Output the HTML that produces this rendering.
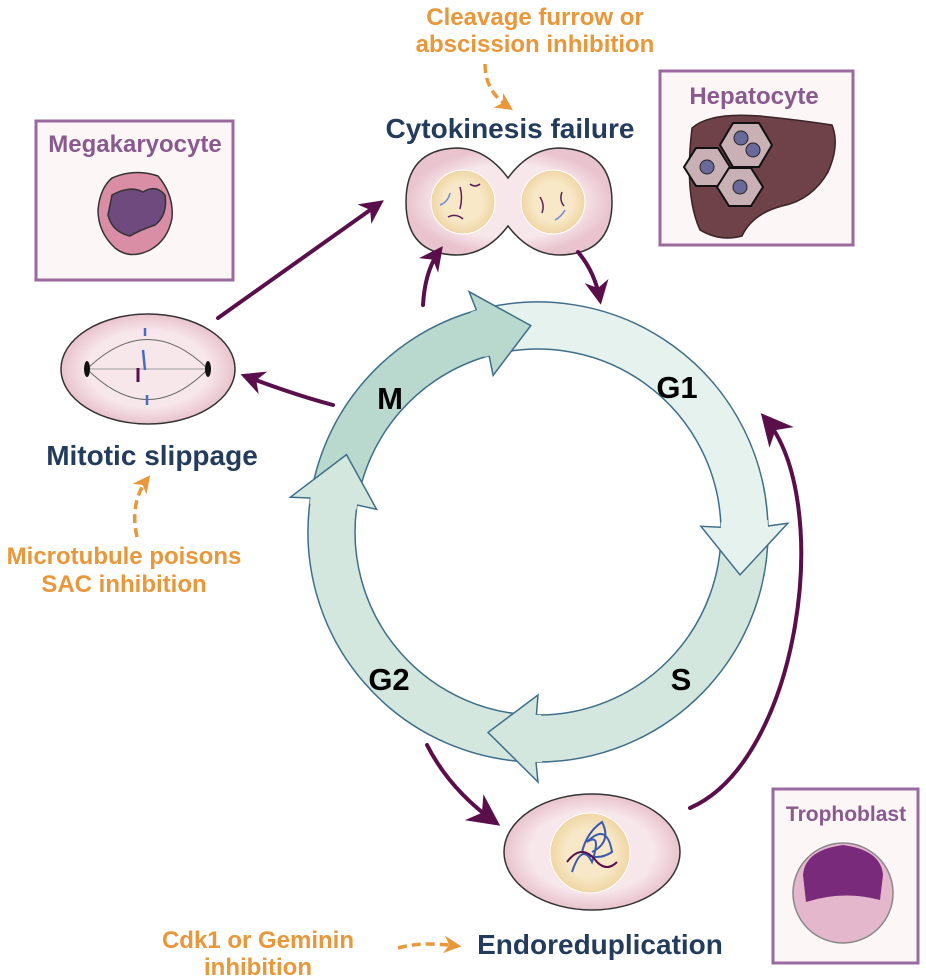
<!DOCTYPE html>
<html><head><meta charset="utf-8"><style>
html,body{margin:0;padding:0;background:#fff;width:926px;height:978px;overflow:hidden}
svg{display:block}
text{font-family:"Liberation Sans",Arial,sans-serif;font-weight:bold}
</style></head><body>
<svg id="s" width="926" height="978" viewBox="0 0 926 978" xmlns="http://www.w3.org/2000/svg">
<defs>
<marker id="ah" viewBox="0 0 10 10" refX="8" refY="5" markerWidth="6" markerHeight="6" orient="auto"><path d="M0,0 L10,5 L0,10 L3,5 z" fill="#5a0f4a"/></marker>
<marker id="ahb" viewBox="0 0 10 10" refX="8" refY="5" markerWidth="8" markerHeight="8" orient="auto"><path d="M0,0 L10,5 L0,10 L3,5 z" fill="#5a0f4a"/></marker>
<marker id="oh" viewBox="0 0 10 10" refX="8" refY="5" markerWidth="5" markerHeight="5" orient="auto"><path d="M0,0 L10,5 L0,10 L3,5 z" fill="#e8973a"/></marker>
<radialGradient id="pink" cx="0.5" cy="0.5" r="0.5"><stop offset="0.7" stop-color="#f7e6ea"/><stop offset="1" stop-color="#e9c3cd"/></radialGradient>
<radialGradient id="nuc" cx="0.5" cy="0.5" r="0.5"><stop offset="0.6" stop-color="#f8e8c8"/><stop offset="1" stop-color="#efd6a4"/></radialGradient>
</defs>
<g id="ring"></g>
<text x="390" y="409" font-size="31" text-anchor="middle">M</text>
<text x="677" y="398" font-size="31" text-anchor="middle">G1</text>
<text x="681" y="690" font-size="31" text-anchor="middle">S</text>
<text x="389" y="690" font-size="31" text-anchor="middle">G2</text>

<!-- texts -->
<text x="535" y="25" font-size="24" fill="#e8973a" text-anchor="middle">Cleavage furrow or</text>
<text x="535" y="52" font-size="24" fill="#e8973a" text-anchor="middle">abscission inhibition</text>
<path d="M485,64 C485,85 495,98 510,108" stroke="#e8973a" stroke-width="3.5" fill="none" stroke-dasharray="9,5" marker-end="url(#oh)"/>
<text x="510" y="138" font-size="28" fill="#243c5c" text-anchor="middle">Cytokinesis failure</text>
<text x="152" y="465" font-size="28" fill="#243c5c" text-anchor="middle">Mitotic slippage</text>
<text x="600" y="954" font-size="28" fill="#243c5c" text-anchor="middle">Endoreduplication</text>
<text x="124" y="564" font-size="24" fill="#e8973a" text-anchor="middle">Microtubule poisons</text>
<text x="124" y="592" font-size="24" fill="#e8973a" text-anchor="middle">SAC inhibition</text>
<path d="M137,537 C132,515 135,495 148,478" stroke="#e8973a" stroke-width="3.5" fill="none" stroke-dasharray="9,5" marker-end="url(#oh)"/>
<text x="258" y="948" font-size="24" fill="#e8973a" text-anchor="middle">Cdk1 or Geminin</text>
<text x="258" y="975" font-size="24" fill="#e8973a" text-anchor="middle">inhibition</text>
<path d="M398,948 C420,942 440,944 458,946" stroke="#e8973a" stroke-width="3.5" fill="none" stroke-dasharray="9,5" marker-end="url(#oh)"/>

<!-- boxes -->
<rect x="36" y="121" width="197" height="159" fill="#fcf6f7" stroke="#9a6a9e" stroke-width="3"/>
<text x="135" y="152" font-size="24" fill="#8a5a8e" text-anchor="middle">Megakaryocyte</text>
<rect x="660" y="71" width="193" height="174" fill="#fcf6f7" stroke="#9a6a9e" stroke-width="3"/>
<text x="754" y="104" font-size="24" fill="#8a5a8e" text-anchor="middle">Hepatocyte</text>
<rect x="773" y="789" width="145" height="174" fill="#fcf6f7" stroke="#9a6a9e" stroke-width="3"/>
<text x="846" y="821" font-size="21" fill="#8a5a8e" text-anchor="middle">Trophoblast</text>

<!-- megakaryocyte -->
<path d="M112,178 Q135,168 158,176 Q174,195 172,218 Q168,240 150,250 Q130,260 115,248 Q98,232 98,210 Q100,188 112,178 z" fill="#d98ea6" stroke="#333" stroke-width="1.5"/>
<path d="M112,195 Q130,185 143,192 Q156,184 165,195 Q168,215 155,225 Q140,230 130,236 Q112,232 108,215 z" fill="#6e4a7e" stroke="#333" stroke-width="1.5"/>
<!-- hepatocyte liver -->
<path d="M692,128 Q710,112 760,116 Q800,120 832,125 Q840,145 828,172 Q812,200 782,206 Q752,214 742,236 Q720,242 700,230 Q684,195 692,128 z" fill="#6e4248" stroke="#3a2226" stroke-width="1.5"/>
<g fill="#c8b0b4" stroke="#111" stroke-width="2">
<polygon points="733,123 759,123 772,145 759,167 733,167 720,145"/>
<polygon points="696,148 718,148 730,167 718,186 696,186 684,167"/>
<polygon points="729,168 751,168 763,187 751,206 729,206 717,187"/>
</g>
<g fill="#6a6a9a" stroke="#222"><circle cx="741" cy="138" r="7"/><circle cx="753" cy="150" r="7"/>
<circle cx="707" cy="167" r="7"/><circle cx="740" cy="187" r="7"/></g>
<!-- trophoblast -->
<circle cx="843" cy="893" r="50" fill="#e4b7cc" stroke="#888" stroke-width="1.5"/>
<path d="M803,875 Q805,850 843,845 Q881,850 883,875 L880,900 Q843,890 806,902 z" fill="#7a2a7a"/>
<!-- cytokinesis cell -->
<path d="M508,178 Q530,148 560,148 Q612,150 612,202 Q612,254 560,255 Q530,255 508,226 Q486,255 456,255 Q406,254 406,202 Q406,150 456,148 Q486,148 508,178 z" fill="url(#pink)" stroke="#333" stroke-width="1.5"/>
<circle cx="463" cy="202" r="32" fill="url(#nuc)" stroke="#fff"/>
<circle cx="553" cy="202" r="32" fill="url(#nuc)" stroke="#fff"/>
<path d="M460,187 q3,10 0,22 M470,184 q5,4 10,0 M448,217 q8,-4 15,2 M540,197 q5,8 2,16 M562,192 q-3,8 2,14" stroke="#5a1f5a" stroke-width="1.5" fill="none"/>
<path d="M440,205 q8,-3 10,-12 M555,220 q6,-3 10,-10" stroke="#6a8ad0" stroke-width="1.5" fill="none"/>
<!-- mitotic cell -->
<ellipse cx="148" cy="369" rx="87" ry="55" fill="url(#pink)" stroke="#333" stroke-width="1.5"/>
<path d="M87,369 Q148,310 208,369 Q148,430 87,369 z" fill="none" stroke="#666" stroke-width="1"/>
<line x1="87" y1="369" x2="208" y2="369" stroke="#999"/>
<ellipse cx="87" cy="369" rx="3" ry="8" fill="#111"/><ellipse cx="208" cy="369" rx="3" ry="8" fill="#111"/>
<path d="M145,328 l0,8 M143,350 l2,20 M147,395 l0,10" stroke="#4b6bc0" stroke-width="2.5"/>
<path d="M138,368 l0,14" stroke="#5a0f4a" stroke-width="3"/>
<!-- endo cell -->
<ellipse cx="592" cy="852" rx="88" ry="58" fill="url(#pink)" stroke="#333" stroke-width="1.5"/>
<circle cx="590" cy="853" r="40" fill="url(#nuc)" stroke="#fff"/>
<path d="M572,872 q10,-30 20,-10 q10,-30 -5,-20 q20,-20 25,10 q-15,10 -30,0 q5,-20 20,-30 q10,20 -10,30" stroke="#3a5ab0" stroke-width="2" fill="none"/>
<path d="M567,862 q15,-20 30,0 q10,10 20,0" stroke="#5a0f4a" stroke-width="2" fill="none"/>

<!-- purple arrows -->
<g stroke="#5a0f4a" stroke-width="4" fill="none" stroke-linecap="round">
<path d="M218,318 L380,203" marker-end="url(#ah)"/>
<path d="M423,305 Q425,270 440,250" marker-end="url(#ah)"/>
<path d="M578,252 Q595,272 600,300" marker-end="url(#ah)"/>
<path d="M333,405 Q295,395 245,376" marker-end="url(#ah)"/>
<path d="M427,745 Q450,790 495,822" marker-end="url(#ahb)"/>
<path d="M690,808 C800,760 835,500 765,418" marker-end="url(#ahb)"/>
</g>
</svg>
<script>
(function(){
var cx=538,cy=532,Ro=230,Ri=183,Rm=206.5,W=20,H=14,S='#3e6e8a';
function p(r,a){a=a*Math.PI/180;return (cx+r*Math.cos(a)).toFixed(1)+","+(cy+r*Math.sin(a)).toFixed(1);}
function arc(r,a0,a1,sweep){var large=Math.abs(a1-a0)>180?1:0;return "A"+r+","+r+" 0 "+large+","+sweep+" "+p(r,a1);}
var segs=[[-158,-92,"#b9d9ce"],[-92,12,"#e6f2ed"],[12,104,"#d3e7df"],[104,202,"#d3e7df"]];
var bodies="",heads="";
segs.forEach(function(s){
 var a0=s[0],a1=s[1],f=s[2],b=a1-H,pb=a0-H;
 bodies+='<path d="M'+p(Ro,pb)+' '+arc(Ro,pb,b,1)+' L'+p(Ri,b)+' '+arc(Ri,b,pb,0)+' Z" fill="'+f+'" stroke="none"/>';
 bodies+='<path d="M'+p(Ro,pb)+' '+arc(Ro,pb,b,1)+' M'+p(Ri,pb)+' '+arc(Ri,pb,b,1)+'" fill="none" stroke="'+S+'" stroke-width="1.5"/>';
 heads+='<path d="M'+p(Ro,b+0.5)+' L'+p(Ro+W,b)+' L'+p(Rm,a1)+' L'+p(Ri-W,b)+' L'+p(Ri,b+0.5)+'" fill="'+f+'" stroke="'+S+'" stroke-width="1.5" stroke-linejoin="miter"/>';
 heads+='<path d="M'+p(Ro,b-1)+' L'+p(Ro,b+0.6)+' L'+p(Ri,b+0.6)+' L'+p(Ri,b-1)+' Z" fill="'+f+'" stroke="none"/>';
});
document.getElementById("ring").innerHTML=bodies+heads;
})();
</script>
</body></html>
